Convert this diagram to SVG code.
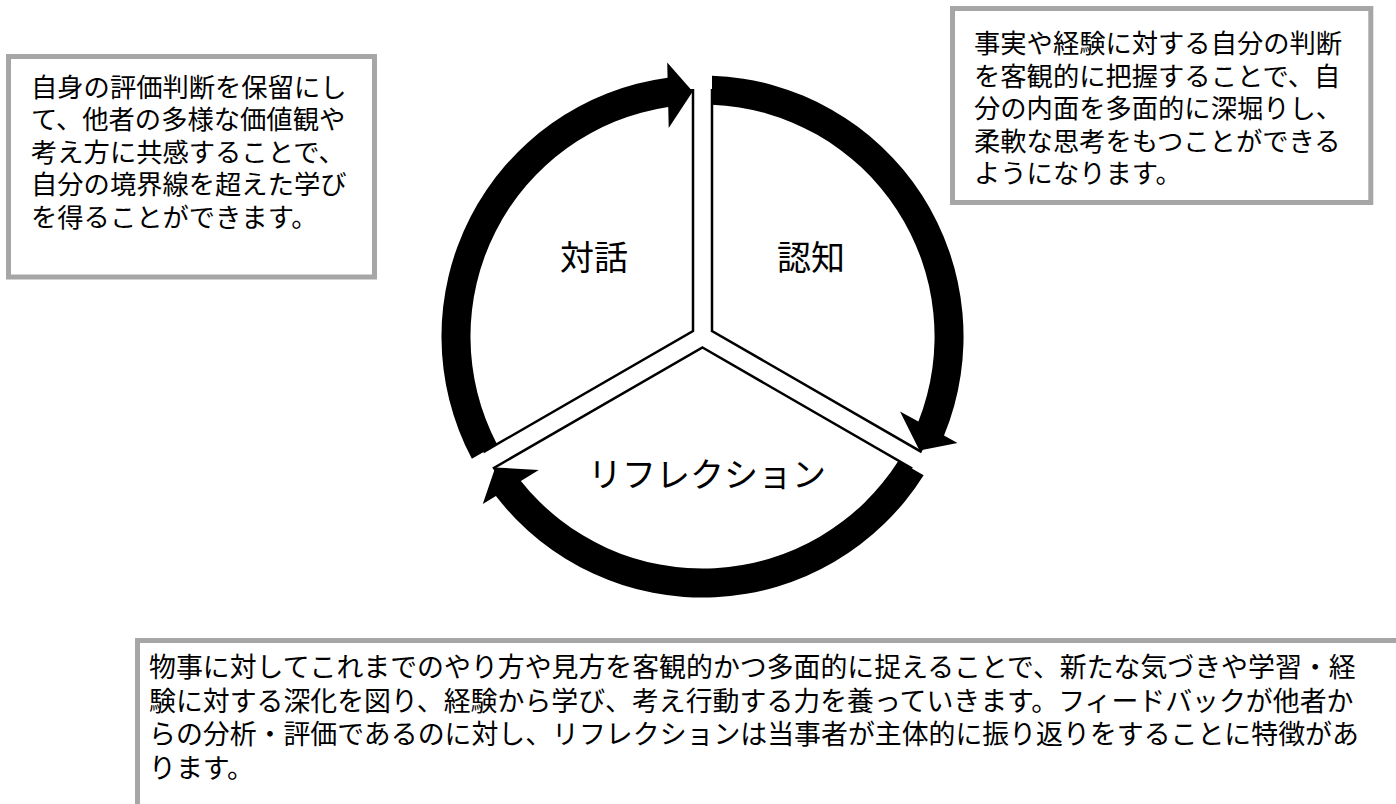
<svg xmlns="http://www.w3.org/2000/svg" width="1396" height="804" viewBox="0 0 1396 804">
  <style>
    .box { fill: #ffffff; stroke: #a6a6a6; stroke-width: 5; }
    .txt { font-family: 'Liberation Sans', 'Noto Sans CJK JP', sans-serif; fill: #000000; }
    .note { font-size: 26.3px; }
    .note2 { font-size: 26.9px; }
    .label { font-size: 34px; text-anchor: middle; }
    .sector { fill: #ffffff; stroke: #000000; stroke-width: 2.5; stroke-linejoin: miter; }
    .ring { fill: #000000; stroke: none; }
  </style>
  <defs>
    <path id="arrow" d="M 712,75.67 A 261 261 0 0 1 944.0,435.6 L 957.5,443 L 919.5,450.5 L 900,411.5 L 918.4,421.58 A 232 232 0 0 0 712,104.7 Z"/>
  </defs>
  <rect width="1396" height="804" fill="#ffffff"/>

  <g id="sector-dialogue">
    <path class="sector" d="M 693,331 L 693,90.18 A 246.5 246.5 0 0 0 484.43,451.43 Z"/>
    <text class="txt label" x="594" y="270">対話</text>
  </g>
  <g id="sector-cognition">
    <path class="sector" d="M 712,331 L 712,90.18 A 246.5 246.5 0 0 1 920.57,451.43 Z"/>
    <text class="txt label" x="811" y="270">認知</text>
  </g>
  <g id="sector-reflection">
    <path class="sector" d="M 702.5,347.47 L 911.07,467.88 A 246.5 246.5 0 0 1 493.93,467.88 Z"/>
    <text class="txt label" x="707" y="487">リフレクション</text>
  </g>

  <g id="connectors">
    <use href="#arrow" class="ring"/>
    <use href="#arrow" class="ring" transform="rotate(120 702.5 336.5)"/>
    <use href="#arrow" class="ring" transform="rotate(240 702.5 336.5)"/>
  </g>

  <g id="note-dialogue">
    <rect class="box" x="8.5" y="56.5" width="366" height="220.5"/>
    <text class="txt note" x="31">
      <tspan x="31" y="96.5">自身の評価判断を保留にし</tspan>
      <tspan x="31" y="129">て、他者の多様な価値観や</tspan>
      <tspan x="31" y="161.5">考え方に共感することで、</tspan>
      <tspan x="31" y="194">自分の境界線を超えた学び</tspan>
      <tspan x="31" y="226.5">を得ることができます。</tspan>
    </text>
  </g>

  <g id="note-cognition">
    <rect class="box" x="952.5" y="8.5" width="418.3" height="194"/>
    <text class="txt note" x="974">
      <tspan x="974" y="53">事実や経験に対する自分の判断</tspan>
      <tspan x="974" y="85.5">を客観的に把握することで、自</tspan>
      <tspan x="974" y="118">分の内面を多面的に深堀りし、</tspan>
      <tspan x="974" y="150.5">柔軟な思考をもつことができる</tspan>
      <tspan x="974" y="183">ようになります。</tspan>
    </text>
  </g>

  <g id="note-reflection">
    <rect class="box" x="137.5" y="640.5" width="1300" height="200"/>
    <text class="txt note2" x="149">
      <tspan x="149" y="677">物事に対してこれまでのやり方や見方を客観的かつ多面的に捉えることで、新たな気づきや学習・経</tspan>
      <tspan x="149" y="710.5">験に対する深化を図り、経験から学び、考え行動する力を養っていきます。フィードバックが他者か</tspan>
      <tspan x="149" y="744">らの分析・評価であるのに対し、リフレクションは当事者が主体的に振り返りをすることに特徴があ</tspan>
      <tspan x="149" y="777.5">ります。</tspan>
    </text>
  </g>
</svg>
